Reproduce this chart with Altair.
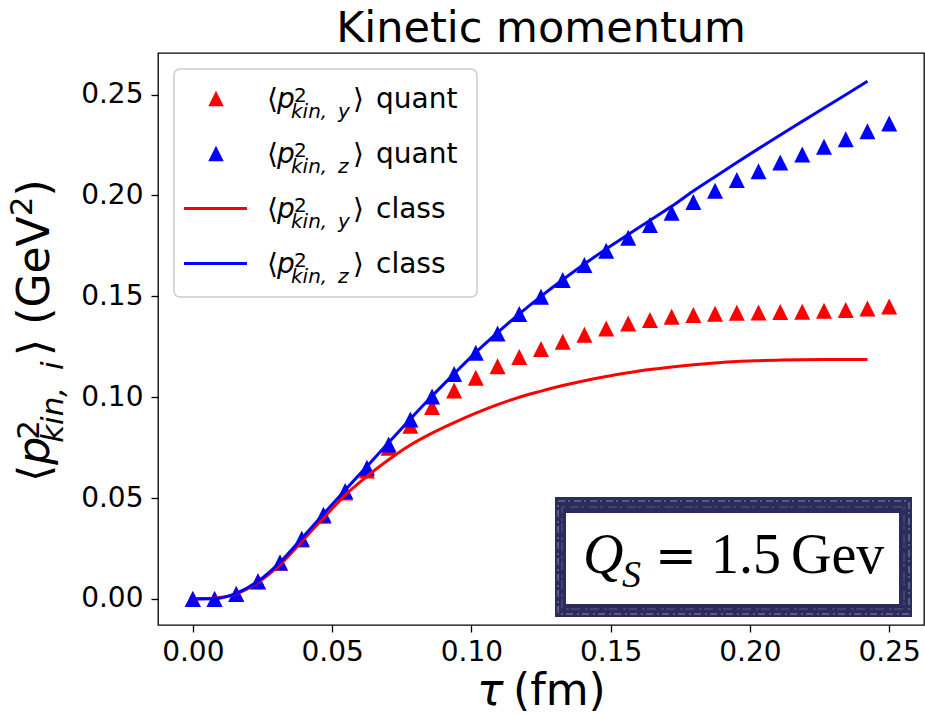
import altair as alt
import pandas as pd

# ---------------- data ----------------
tau_quant = [0.0000, 0.0078, 0.0156, 0.0234, 0.0313, 0.0391, 0.0469, 0.0547, 0.0625, 0.0703,
             0.0781, 0.0859, 0.0938, 0.1016, 0.1094, 0.1172, 0.1250, 0.1328, 0.1406, 0.1484,
             0.1563, 0.1641, 0.1719, 0.1797, 0.1875, 0.1953, 0.2031, 0.2109, 0.2188, 0.2266,
             0.2344, 0.2422, 0.2500]
py_quant = [0.0000, 0.0000, 0.0025, 0.0087, 0.0180, 0.0295, 0.0413, 0.0528, 0.0637, 0.0750,
            0.0858, 0.0952, 0.1033, 0.1096, 0.1153, 0.1199, 0.1239, 0.1275, 0.1310, 0.1340,
            0.1365, 0.1383, 0.1399, 0.1407, 0.1414, 0.1418, 0.1420, 0.1422, 0.1424, 0.1428,
            0.1432, 0.1440, 0.1449]
pz_quant = [0.0000, 0.0000, 0.0025, 0.0088, 0.0181, 0.0298, 0.0418, 0.0535, 0.0650, 0.0766,
            0.0889, 0.1004, 0.1115, 0.1220, 0.1316, 0.1412, 0.1498, 0.1581, 0.1655, 0.1726,
            0.1790, 0.1853, 0.1914, 0.1968, 0.2023, 0.2076, 0.2120, 0.2163, 0.2203, 0.2241,
            0.2279, 0.2318, 0.2356]

tau_class = [0.0000, 0.0078, 0.0156, 0.0234, 0.0313, 0.0391, 0.0469, 0.0547, 0.0625, 0.0703,
             0.0781, 0.0859, 0.0938, 0.1016, 0.1094, 0.1172, 0.1250, 0.1328, 0.1406, 0.1484,
             0.1563, 0.1641, 0.1719, 0.1797, 0.1875, 0.1953, 0.2031, 0.2109, 0.2188, 0.2266,
             0.2344, 0.2422]
py_class = [0.0000, 0.0003, 0.0025, 0.0082, 0.0170, 0.0285, 0.0401, 0.0515, 0.0608, 0.0690,
            0.0763, 0.0822, 0.0874, 0.0921, 0.0963, 0.1000, 0.1030, 0.1058, 0.1082, 0.1103,
            0.1121, 0.1137, 0.1150, 0.1161, 0.1170, 0.1177, 0.1181, 0.1184, 0.1186, 0.1187,
            0.1187, 0.1187]
pz_class = [0.0000, 0.0002, 0.0028, 0.0088, 0.0182, 0.0300, 0.0421, 0.0540, 0.0657, 0.0775,
            0.0892, 0.1006, 0.1116, 0.1222, 0.1320, 0.1413, 0.1500, 0.1582, 0.1660, 0.1735,
            0.1806, 0.1876, 0.1946, 0.2022, 0.2093, 0.2163, 0.2232, 0.2300, 0.2367, 0.2433,
            0.2499, 0.2566]

x_ticks = [0.00, 0.05, 0.10, 0.15, 0.20, 0.25]
y_ticks = [0.00, 0.05, 0.10, 0.15, 0.20, 0.25]
x_domain = [-0.0125, 0.2625]
y_domain = [-0.0129, 0.2706]

# ---------------- layout ----------------
W, H = 766, 572          # plot area
PL, PT = 158, 53         # plot origin in the page
TRI = "M0,-1L-1,1L1,1Z"
NAVY = "#2b2c5c"

quant = pd.DataFrame({"tau": tau_quant, "py": py_quant, "pz": pz_quant})
klass = pd.DataFrame({"tau": tau_class, "py": py_class, "pz": pz_class})

X = alt.X("tau:Q", scale=alt.Scale(domain=x_domain, nice=False, zero=False),
          axis=alt.Axis(values=x_ticks, format=".2f", title="", labelFlush=False,
                        labelOverlap=False, labelPadding=6))


def Y(field):
    return alt.Y(field, scale=alt.Scale(domain=y_domain, nice=False, zero=False),
                 axis=alt.Axis(values=y_ticks, format=".2f", title="", labelOverlap=False,
                               labelPadding=8))


red_tri = alt.Chart(quant).mark_point(shape=TRI, filled=True, size=256, color="red",
                                      opacity=1, strokeWidth=0).encode(x=X, y=Y("py:Q"))
blue_tri = alt.Chart(quant).mark_point(shape=TRI, filled=True, size=256, color="blue",
                                       opacity=1, strokeWidth=0).encode(x=X, y=Y("pz:Q"))
red_line = alt.Chart(klass).mark_line(color="red", strokeWidth=3,
                                      interpolate="monotone").encode(x=X, y=Y("py:Q"))
blue_line = alt.Chart(klass).mark_line(color="blue", strokeWidth=3,
                                       interpolate="monotone").encode(x=X, y=Y("pz:Q"))

one = pd.DataFrame({"t": [""]})


def txt(s, x, y, size, italic=False, font="DejaVu Sans", angle=0, align="left", color="black"):
    kw = dict(font=font, fontSize=size, fontStyle="italic" if italic else "normal",
              align=align, baseline="alphabetic", color=color)
    if angle:
        kw["angle"] = angle
    return alt.Chart(pd.DataFrame({"t": [s]})).mark_text(**kw).encode(
        x=alt.value(x), y=alt.value(y), text="t:N")


def box(x1, x2, y1, y2, **kw):
    return alt.Chart(one).mark_rect(**kw).encode(
        x=alt.value(x1), x2=alt.value(x2), y=alt.value(y1), y2=alt.value(y2))


layers = [red_tri, blue_tri, red_line, blue_line]

# ---------------- legend ----------------
layers.append(box(16, 319, 16, 244, fill="white", stroke="#cccccc", strokeWidth=1.5,
                  cornerRadius=6))
layers.append(alt.Chart(one).mark_point(shape=TRI, filled=True, size=240, color="red",
                                        opacity=1, strokeWidth=0)
              .encode(x=alt.value(58), y=alt.value(45.5)))
layers.append(alt.Chart(one).mark_point(shape=TRI, filled=True, size=240, color="blue",
                                        opacity=1, strokeWidth=0)
              .encode(x=alt.value(58), y=alt.value(100.5)))
layers.append(alt.Chart(one).mark_rule(color="red", strokeWidth=3)
              .encode(x=alt.value(26), x2=alt.value(89), y=alt.value(155.5)))
layers.append(alt.Chart(one).mark_rule(color="blue", strokeWidth=3)
              .encode(x=alt.value(26), x2=alt.value(89), y=alt.value(210.5)))

leg_items = [("y", "quant"), ("z", "quant"), ("y", "class"), ("z", "class")]
for k, (comp, kind) in enumerate(leg_items):
    B = 108 + 55 * k - PT
    layers += [
        txt("⟨", 267 - PL, B, 28),
        txt("p", 277 - PL, B, 28, italic=True),
        txt("2", 294 - PL, B - 6.5, 20),
        txt("kin,", 291 - PL, B + 9.5, 20, italic=True),
        txt(comp, 338 - PL, B + 9.5, 20, italic=True),
        txt("⟩", 353 - PL, B, 28),
        txt(kind, 376 - PL, B, 28),
    ]

# ---------------- title & axis titles ----------------
layers.append(txt("Kinetic momentum", W / 2, 42 - PT, 43, align="center"))
layers.append(txt("τ", 477 - PL, 705 - PT, 44, italic=True))
layers.append(txt("(fm)", 513 - PL, 705 - PT, 44))

F = 44
S = 31
bx = 49 - PL
cur = 482 - PT
layers.append(txt("⟨", bx, cur, F, angle=270))
cur -= 0.39 * F
layers.append(txt("p", bx, cur, F, italic=True, angle=270))
layers.append(txt("2", bx - 0.22 * F, cur - 0.57 * F, S, angle=270))
cur -= 0.5 * F
layers.append(txt("kin,", bx + 0.32 * F, cur, S, italic=True, angle=270))
cur -= 1.809 * S + 0.38 * F
layers.append(txt("i", bx + 0.32 * F, cur, S, italic=True, angle=270))
cur -= 0.30 * S + 0.11 * F
layers.append(txt("⟩", bx, cur, F, angle=270))
cur -= 0.39 * F + 0.318 * F
layers.append(txt("(GeV", bx, cur, F, angle=270))
cur -= 2.464 * F
layers.append(txt("2", bx - 0.38 * F, cur, S, angle=270))
cur -= 0.636 * S
layers.append(txt(")", bx, cur, F, angle=270))

# ---------------- Q_S stamp ----------------
layers.append(box(555 - PL, 912 - PL, 497 - PT, 617 - PT, fill=NAVY))
layers.append(box(558 - PL, 909 - PL, 501 - PT, 614 - PT, fill=None, stroke="white",
                  strokeWidth=1, strokeOpacity=0.45, strokeDash=[7, 3, 2, 4]))
layers.append(box(562 - PL, 904 - PL, 507 - PT, 609 - PT, fill=None, stroke="#8a8ab0",
                  strokeWidth=1, strokeOpacity=0.5, strokeDash=[3, 5, 9, 2]))
layers.append(box(566 - PL, 899 - PL, 513 - PT, 604 - PT, fill="white"))
layers.append(txt("Q", 583 - PL, 573 - PT, 56, italic=True, font="Liberation Serif"))
layers.append(txt("S", 622 - PL, 587 - PT, 38, italic=True, font="Liberation Serif"))
layers.append(txt("=", 655 - PL, 573 - PT, 50, font="DejaVu Serif"))
layers.append(txt("1.5", 711 - PL, 573 - PT, 56, font="Liberation Serif"))
layers.append(txt("Gev", 791 - PL, 573 - PT, 56, font="Liberation Serif"))

chart = alt.layer(*layers).properties(
    width=W, height=H,
    padding={"left": PL, "top": PT, "right": 925 - PL - W, "bottom": 714 - PT - H},
    autosize=alt.AutoSizeParams(type="none"),
    background="white",
).configure_view(
    stroke="black", strokeWidth=1.3
).configure_axis(
    grid=False, domain=False, tickColor="black", tickSize=7, tickWidth=1.3,
    labelFont="DejaVu Sans", labelFontSize=28, labelColor="black",
)

chart.save("out.html", embed_options={"renderer": "svg", "actions": False})
